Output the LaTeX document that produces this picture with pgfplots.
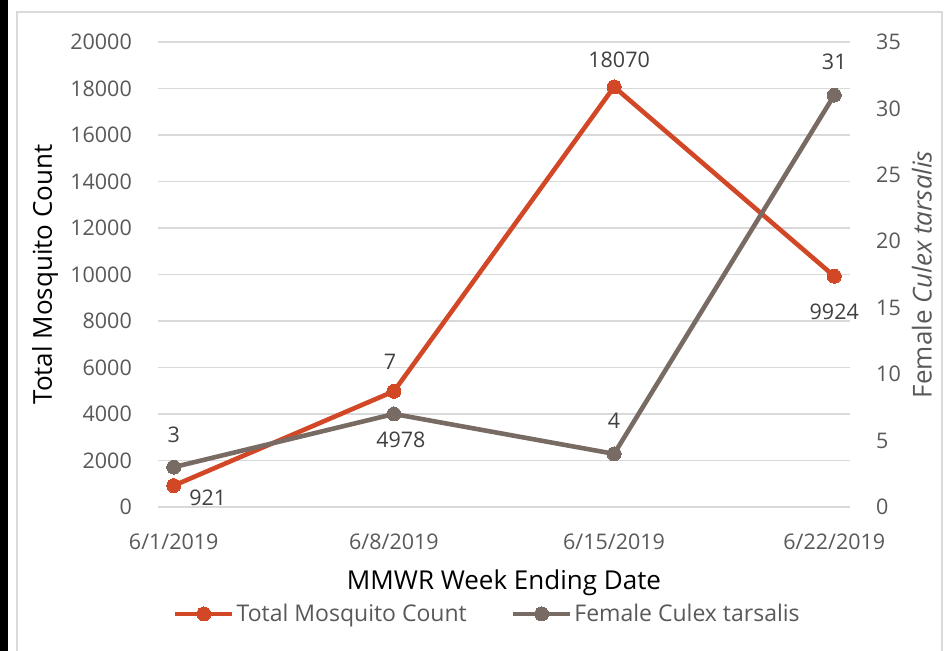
\documentclass[border=0pt]{standalone}
\usepackage{pgfplots}
\usepackage{pgfplotstable}
\pgfplotsset{compat=1.18}
\usepackage{fontspec}
\setmainfont{Open Sans}
\definecolor{redc}{HTML}{D24726}
\definecolor{greyc}{HTML}{776B64}
\definecolor{txt}{HTML}{595959}
\definecolor{lbl}{HTML}{404040}
\definecolor{gridc}{HTML}{D9D9D9}

\pgfplotstableread{
x y dx dy
0 921 34 -12
7 4978 7 -49
14 18070 5 27
21 9924 0 -36
}\totaltab
\pgfplotstableread{
x y dx dy
0 3 0 32
7 7 -4 52
14 4 0 33
21 31 0 33
}\femtab

\newcommand\tsz{\fontsize{21.5bp}{25bp}\selectfont}
\newcommand\gsz{\fontsize{23bp}{27bp}\selectfont}
\newcommand\lsz{\fontsize{26bp}{30bp}\selectfont}

\pgfplotsset{
  common/.style={
    at={(158bp,144bp)}, anchor=south west, scale only axis,
    width=692bp, height=465bp,
    xmin=-0.5, xmax=21.5, ymin=0,
    scaled y ticks=false,
    /pgf/number format/assume math mode=true,
    /pgf/number format/set thousands separator={},
    tick label style={font=\tsz, text=txt},
    yticklabel style={inner sep=0pt},
  },
}

\begin{document}
\begin{tikzpicture}[x=1bp,y=1bp]
\useasboundingbox (0,0) rectangle (950,651);
\fill[black] (0,0) rectangle (8,651);
\draw[gridc, line width=2bp] (17,-5) -- (17,639) -- (942,639) -- (942,-5);

\begin{axis}[common,
  ymax=20000, ytick={0,2000,...,20000},
  axis x line*=bottom, axis y line*=left,
  y axis line style={draw=none},
  x axis line style={draw=gridc, line width=1.5bp, -},
  ytick style={draw=none},
  xtick={0,7,14,21}, xticklabels={6/1/2019,6/8/2019,6/15/2019,6/22/2019},
  xtick style={draw=none},
  extra x ticks={-0.5,6.5,13.5,20.5}, extra x tick labels={},
  extra x tick style={tick style={draw=gridc, line width=1.5bp}, major tick length=7bp, tick align=outside},
  xticklabel style={anchor=north, inner sep=0pt, yshift=-27bp},
  yticklabel style={anchor=east, xshift=-26bp},
  ymajorgrids, grid style={draw=gridc, line width=1.5bp},
  ylabel={Total Mosquito Count},
  ylabel style={at={(axis description cs:-0.163,0.5)}, anchor=center, font=\lsz, text=black},
  xlabel={MMWR Week Ending Date},
  xlabel style={at={(axis description cs:0.5,-0.163)}, anchor=center, font=\lsz, text=black},
  legend style={at={(axis description cs:0.476,-0.23)}, anchor=center, draw=none, fill=none,
    legend columns=2, font=\gsz, text=txt, inner sep=0pt,
    nodes={inner sep=2bp},
    /tikz/every even column/.append style={column sep=42bp}},
  legend cell align=left,
  legend image code/.code={
    \draw[#1,mark=none] (0bp,0bp) -- (57bp,0bp);
    \draw[#1,only marks] plot coordinates {(28.5bp,0bp)};
  },
]
\addplot[redc, line width=4.6bp, mark=*, mark size=7bp, mark options={fill=redc, draw=redc, line width=0pt},
  point meta=explicit symbolic,
  nodes near coords,
  visualization depends on={\thisrow{dx}\as\dx},
  visualization depends on={\thisrow{dy}\as\dy},
  nodes near coords style={anchor=center, xshift=\dx*1bp, yshift=\dy*1bp, text=lbl, font=\tsz, inner sep=0pt},
] table[x=x, y=y, meta=y] {\totaltab};
\addlegendentry{Total Mosquito Count}
\addlegendimage{greyc, line width=4.6bp, mark=*, mark size=7bp, mark options={fill=greyc, draw=greyc, line width=0pt}}
\addlegendentry{Female Culex tarsalis}
\end{axis}

\begin{axis}[common,
  ymax=35, ytick={0,5,...,35},
  axis y line*=right, hide x axis,
  y axis line style={draw=none},
  ytick style={draw=none},
  yticklabel style={anchor=west, xshift=26bp},
  ylabel={Female \textit{Culex tarsalis}},
  ylabel style={at={(axis description cs:1.104,0.5)}, anchor=center, font=\lsz, text=txt},
]
\addplot[greyc, line width=4.6bp, mark=*, mark size=7bp, mark options={fill=greyc, draw=greyc, line width=0pt},
  point meta=explicit symbolic,
  nodes near coords,
  visualization depends on={\thisrow{dx}\as\dx},
  visualization depends on={\thisrow{dy}\as\dy},
  nodes near coords style={anchor=center, xshift=\dx*1bp, yshift=\dy*1bp, text=lbl, font=\tsz, inner sep=0pt},
] table[x=x, y=y, meta=y] {\femtab};
\end{axis}
\end{tikzpicture}
\end{document}
